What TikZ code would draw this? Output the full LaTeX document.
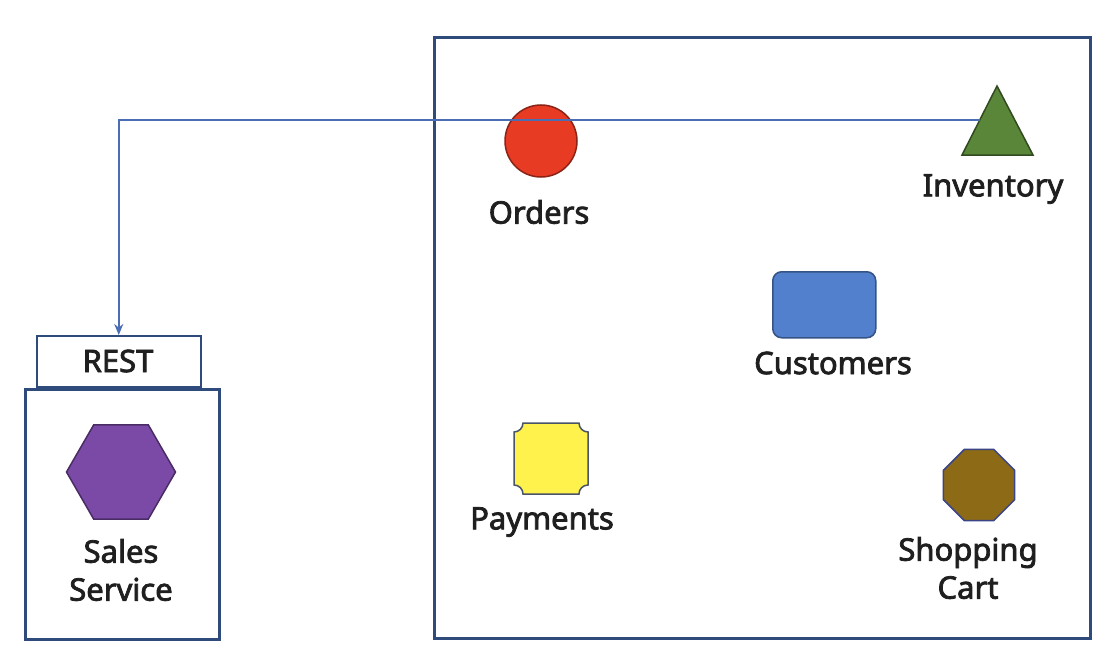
\documentclass[tikz,border=0pt]{standalone}
\usepackage{fontspec}
\setmainfont{Noto Sans}
\newfontfamily\lblfont{Noto Sans}[FakeBold=2.5]
\usetikzlibrary{shapes.geometric,arrows.meta}
\definecolor{frame}{HTML}{2F4B7C}
\definecolor{conn}{HTML}{4A6DB3}
\definecolor{ordc}{HTML}{E83B24}
\definecolor{invc}{HTML}{5A8639}
\definecolor{cusc}{HTML}{5280CC}
\definecolor{payc}{HTML}{FFF24D}
\definecolor{cartc}{HTML}{8C6A16}
\definecolor{hexc}{HTML}{7B4AA7}
\definecolor{edge}{HTML}{4A5568}
\tikzset{
  box/.style={draw=frame, line width=3pt},
  lbl/.style={font=\lblfont\fontsize{31}{38}\selectfont, text=black!88, inner sep=0pt, align=center},
  shp/.style={draw=edge, line width=1.5pt},
}
\begin{document}
\begin{tikzpicture}[x=1pt,y=-1pt]
\useasboundingbox[fill=white] (0,0) rectangle (1110,666);
% containers
\node[box, minimum width=656, minimum height=601, inner sep=0, anchor=north west] (dom) at (433,36) {};
\node[box, minimum width=194, minimum height=250, inner sep=0, anchor=north west] (svc) at (24,388) {};
\node[draw=frame, line width=1.5pt, minimum width=164, minimum height=51, inner sep=0, anchor=north west] (rest) at (36,335) {};
\node[lbl] (restl) at (118,361) {REST};
% sales service
\node[shp, draw=hexc!60!black, fill=hexc, regular polygon, regular polygon sides=6, minimum size=109, inner sep=0] (hex) at (121,472) {};
\node[lbl] (salesl) at (121,570) {Sales\\Service};
% orders
\node[shp, draw=ordc!60!black, fill=ordc, circle, minimum size=72, inner sep=0] (ord) at (541,141) {};
\node[lbl] (ordl) at (539,212) {Orders};
% inventory
\coordinate (tA) at (997,86);
\coordinate (tB) at (1033,155);
\coordinate (tC) at (962,155);
\fill[invc, draw=invc!55!black, line width=1.5pt] (tA) -- (tB) -- (tC) -- cycle;
\coordinate (tin) at (980,120);
\node[lbl] (invl) at (993,189) {Inventory};
% customers
\node[draw=cusc!65!black, line width=1.5pt, fill=cusc, rounded corners=9pt, minimum width=103, minimum height=66, inner sep=0, anchor=north west] (cus) at (772,271) {};
\node[lbl] (cusl) at (833,363) {Customers};
% payments
\begin{scope}[x=1pt, y=1pt, shift={(514pt,-494pt)}]
\fill[payc, draw=edge, line width=1.5pt]
  (9,0) -- (65,0) arc[start angle=180, end angle=90, radius=9] -- (74,62)
  arc[start angle=270, end angle=180, radius=9] -- (9,71)
  arc[start angle=0, end angle=-90, radius=9] -- (0,9)
  arc[start angle=90, end angle=0, radius=9] -- cycle;
\end{scope}
\node[lbl] (payl) at (542,522) {Payments};
% shopping cart
\node[shp, draw=edge!80!blue, fill=cartc, regular polygon, regular polygon sides=8, minimum size=77, inner sep=0] (cart) at (979,485) {};
\node[lbl] (cartl) at (968,568) {Shopping\\Cart};
% connector
\draw[conn, line width=2.2pt, -{Stealth[length=11pt,width=9pt]}] (tin) -| (rest.north);
\end{tikzpicture}
\end{document}
